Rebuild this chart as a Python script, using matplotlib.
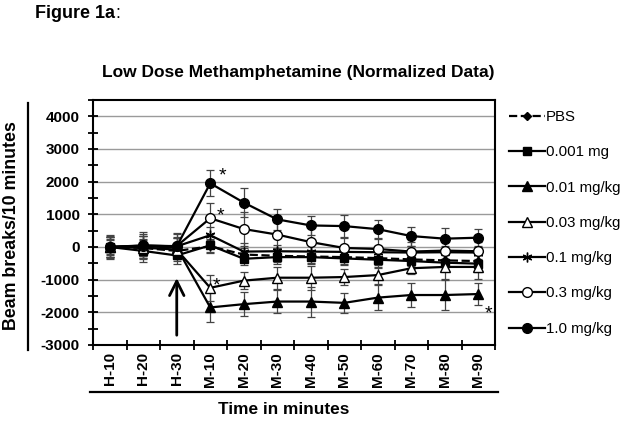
import matplotlib
matplotlib.use("Agg")
import matplotlib.pyplot as plt
from matplotlib.lines import Line2D
import numpy as np

plt.rcParams['font.family'] = ['Liberation Sans', 'DejaVu Sans']

time_labels = ['H-10', 'H-20', 'H-30', 'M-10', 'M-20', 'M-30', 'M-40',
               'M-50', 'M-60', 'M-70', 'M-80', 'M-90']

series_names = ['PBS', '0.001 mg', '0.01 mg/kg', '0.03 mg/kg', '0.1 mg/kg',
                '0.3 mg/kg', '1.0 mg/kg']

pbs = [0, -30, -120, 20, -230, -270, -290, -310, -340, -380, -410, -430]
mg0001 = [0, -120, -260, 50, -360, -310, -310, -350, -390, -430, -480, -510]
mg001 = [0, 30, -20, -1850, -1750, -1670, -1670, -1710, -1550, -1470, -1470, -1440]
mg003 = [0, -20, -80, -1250, -1030, -940, -940, -920, -860, -650, -610, -610]
mg01 = [0, 40, 20, 360, -140, -130, -140, -150, -160, -170, -160, -170]
mg03 = [0, 30, 30, 880, 550, 380, 150, -30, -60, -140, -110, -130]
mg10 = [0, 50, 20, 1950, 1360, 845, 660, 640, 546, 335, 255, 285]

err_pbs = [200, 250, 250, 200, 200, 200, 200, 200, 200, 200, 200, 200]
err0001 = [230, 350, 250, 200, 200, 200, 200, 200, 250, 250, 250, 250]
err001 = [300, 300, 300, 460, 360, 350, 460, 310, 390, 370, 470, 330]
err003 = [300, 350, 350, 400, 260, 340, 370, 250, 260, 190, 360, 360]
err01 = [300, 300, 300, 250, 250, 200, 250, 200, 200, 200, 200, 200]
err03 = [350, 380, 380, 480, 530, 400, 450, 350, 300, 300, 280, 280]
err10 = [380, 400, 400, 400, 450, 330, 290, 350, 270, 290, 320, 270]

values = [pbs, mg0001, mg001, mg003, mg01, mg03, mg10]
errors = [err_pbs, err0001, err001, err003, err01, err03, err10]
styles = [
    dict(marker='D', mfc='black', ls='--', ms=4.5),
    dict(marker='s', mfc='black', ls='-', ms=6),
    dict(marker='^', mfc='black', ls='-', ms=7),
    dict(marker='^', mfc='white', ls='-', ms=7),
    dict(marker=(6, 2, 0), mfc='black', ls='-', ms=7),
    dict(marker='o', mfc='white', ls='-', ms=7),
    dict(marker='o', mfc='black', ls='-', ms=7),
]

fig = plt.figure(figsize=(6.24, 4.22), dpi=100)
ax = fig.add_axes([93/624, 1-345/422, (495-93)/624, (345-100)/422])

x = np.arange(len(time_labels))
handles = []
for name, v, e, st in zip(series_names, values, errors, styles):
    ax.errorbar(x, v, yerr=e, fmt='none', ecolor='#444444', elinewidth=0.9,
                capsize=3, capthick=0.9, zorder=2)
    h, = ax.plot(x, v, color='black', lw=1.6, ls=st['ls'], marker=st['marker'],
                 ms=st['ms'], mfc=st['mfc'], mec='black', mew=1.0, label=name,
                 zorder=3)
    handles.append(h)

ax.set_xlim(-0.5, len(time_labels) - 0.5)
ax.set_ylim(-3000, 4500)
ax.set_yticks(np.arange(-3000, 4001, 1000))
ax.set_yticks(np.arange(-2500, 4501, 1000), minor=True)
ax.set_yticklabels([str(v) for v in range(-3000, 4001, 1000)],
                   fontweight='bold', fontsize=11)
ax.set_xticks(x)
ax.set_xticklabels(time_labels, rotation=90, fontweight='bold', fontsize=11)
ax.set_xticks(np.arange(-0.5, len(time_labels), 1.0), minor=True)
ax.tick_params(axis='x', which='major', length=0, pad=5)
ax.tick_params(axis='x', which='minor', length=7, width=1.3, direction='inout')
ax.tick_params(axis='y', which='both', length=7, width=1.3, direction='inout', pad=6)
ax.grid(axis='y', which='major', color='#9a9a9a', lw=1.0, zorder=0)
ax.set_axisbelow(True)
for s in ax.spines.values():
    s.set_linewidth(1.5)
    s.set_color('black')

# arrow at injection time
ax.annotate('', xy=(2, -950), xytext=(2, -2700),
            arrowprops=dict(arrowstyle='->', lw=2.0, color='black',
                            mutation_scale=26, shrinkA=0, shrinkB=0))

# significance stars
stars = [(3, mg10[3], 9, 5), (3, mg03[3], 7.5, 2), (3, mg003[3], 4.5, 1.5),
         (11, mg001[11], 7.5, -14)]
for xi, yi, dx, dy in stars:
    ax.annotate('*', xy=(xi, yi), xytext=(dx, dy), textcoords='offset points',
                fontsize=14, ha='center', va='center', color='black')

leg = fig.legend(handles=handles, labels=series_names, loc='upper left',
                 bbox_to_anchor=(503/624, 1-104/422), frameon=False,
                 fontsize=10.8, handlelength=2.4, handletextpad=0.05,
                 labelspacing=1.42, numpoints=1, borderaxespad=0)

t = fig.text(35/624, 1-14/422, 'Figure 1a', fontweight='bold', fontsize=13,
             va='center', ha='left')
ax.annotate(':', xy=(1, 0.5), xycoords=t, xytext=(0.5, 0),
            textcoords='offset points', fontsize=13, va='center', ha='left',
            annotation_clip=False)
fig.text(298/624, 1-72/422, 'Low Dose Methamphetamine (Normalized Data)',
         fontweight='bold', fontsize=12.5, ha='center', va='center')
fig.text(284/624, 1-410/422, 'Time in minutes', fontweight='bold', fontsize=12.4,
         ha='center', va='center')
fig.text(12/624, 1-226/422, 'Beam breaks/10 minutes', fontweight='bold',
         fontsize=12.8, rotation=90, ha='center', va='center')

fig.add_artist(Line2D([90/624, 498/624], [1-392/422, 1-392/422], color='black',
                      lw=1.6, transform=fig.transFigure))
fig.add_artist(Line2D([28/624, 28/624], [1-103/422, 1-350/422], color='black',
                      lw=1.6, transform=fig.transFigure))

fig.savefig('out.png', dpi=100)
